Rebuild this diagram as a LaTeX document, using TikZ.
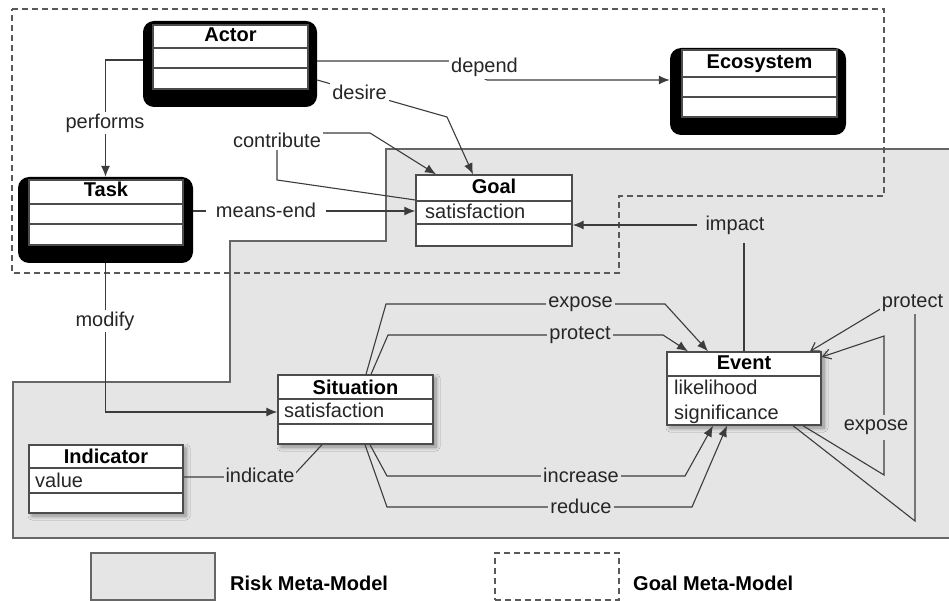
\documentclass[tikz,border=0pt]{standalone}
\usepackage{fontspec}
\setmainfont{Liberation Sans}
\usepackage{tikz}
\usetikzlibrary{shadows.blur}
\usetikzlibrary{arrows.meta}
\definecolor{riskgray}{RGB}{229,229,229}
\definecolor{linegray}{RGB}{60,60,60}

\begin{document}
\begin{tikzpicture}[x=1pt,y=-1pt,font=\fontsize{20}{24}\selectfont]
\tikzstyle{heavy}=[rectangle,rounded corners=11pt,fill=black,inner sep=0]
\tikzstyle{cls}=[rectangle,draw=black!70,line width=1.4pt,fill=white,inner sep=0]
\tikzstyle{shadowed}=[blur shadow={shadow xshift=3pt,shadow yshift=-3pt,shadow blur radius=4pt,shadow blur steps=8}]
\tikzstyle{cline}=[draw=black!70,line width=1.3pt]
\tikzstyle{ttl}=[anchor=base,inner sep=0,font=\fontsize{20}{24}\selectfont\bfseries]
\tikzstyle{attr}=[anchor=base west,inner sep=0,text=black!85]
\tikzstyle{lbl}=[fill=white,inner sep=2pt,text=black!85]
\tikzstyle{lblg}=[fill=riskgray,inner sep=2pt,text=black!85]
\tikzstyle{conn}=[draw=linegray,line width=1.1pt]
\tikzstyle{arr}=[conn,-{Latex[length=11pt,width=9pt]}]
\tikzstyle{oarr}=[conn,-{Straight Barb[length=8pt,width=10pt]}]
\tikzstyle{goalregion}=[draw=black!65,line width=1.3pt,dash pattern=on 6pt off 4pt]

\useasboundingbox (0,0) rectangle (949,601);

% risk and goal regions
\draw[fill=riskgray,draw=black!60,line width=1.3pt] (386,149) -- (953,149) -- (953,538) -- (13,538) -- (13,382) -- (230,382) -- (230,241) -- (386,241) -- cycle;
\draw[goalregion] (12,9) -- (884,9) -- (884,196) -- (619,196) -- (619,273) -- (12,273) -- cycle;

% legend
\node[rectangle,fill=riskgray,draw=black!60,line width=1.3pt,minimum width=124,minimum height=47] (RiskBox) at (153,576.5) {};
\node[anchor=west,inner sep=0,font=\fontsize{20}{24}\selectfont\bfseries] (RiskText) at (230,583) {Risk Meta-Model};
\node[rectangle,goalregion,minimum width=124,minimum height=47] (GoalBox) at (557,576.5) {};
\node[anchor=west,inner sep=0,font=\fontsize{20}{24}\selectfont\bfseries] (GoalText) at (633,583) {Goal Meta-Model};

% actor
\node[heavy,minimum width=174,minimum height=86] (ActorF) at (230,64) {};
\node[cls,minimum width=155,minimum height=64] (Actor) at (230.5,57) {};
\node[ttl] (ActorT) at (230.5,42) {Actor};
\draw[cline] (Actor.west |- 0,48) -- (Actor.east |- 0,48);
\draw[cline] (Actor.west |- 0,68) -- (Actor.east |- 0,68);

% task
\node[heavy,minimum width=175,minimum height=86] (TaskF) at (105.5,220) {};
\node[cls,minimum width=154,minimum height=65] (Task) at (106,212.5) {};
\node[ttl] (TaskT) at (106,197) {Task};
\draw[cline] (Task.west |- 0,204) -- (Task.east |- 0,204);
\draw[cline] (Task.west |- 0,224) -- (Task.east |- 0,224);

% ecosystem
\node[heavy,minimum width=176,minimum height=87] (EcoF) at (758,91.5) {};
\node[cls,minimum width=155,minimum height=67] (Eco) at (759.5,83.5) {};
\node[ttl] (EcoT) at (759.5,69) {Ecosystem};
\draw[cline] (Eco.west |- 0,77) -- (Eco.east |- 0,77);
\draw[cline] (Eco.west |- 0,97) -- (Eco.east |- 0,97);

% goal
\node[cls,minimum width=156,minimum height=71] (Goal) at (494,210.5) {};
\node[ttl] (GoalT) at (494,194) {Goal};
\node[attr] (GoalA) at (425,219) {satisfaction};
\draw[cline] (Goal.west |- 0,201) -- (Goal.east |- 0,201);
\draw[cline] (Goal.west |- 0,224) -- (Goal.east |- 0,224);

% situation
\node[cls,shadowed,minimum width=155,minimum height=69] (Situation) at (355.5,409.5) {};
\node[ttl] (SituationT) at (355.5,394) {Situation};
\node[attr] (SituationA) at (284,417) {satisfaction};
\draw[cline] (Situation.west |- 0,399) -- (Situation.east |- 0,399);
\draw[cline] (Situation.west |- 0,424) -- (Situation.east |- 0,424);

% indicator
\node[cls,shadowed,minimum width=154,minimum height=68] (Indicator) at (106,479) {};
\node[ttl] (IndicatorT) at (106,463) {Indicator};
\node[attr] (IndicatorA) at (35,487) {value};
\draw[cline] (Indicator.west |- 0,468) -- (Indicator.east |- 0,468);
\draw[cline] (Indicator.west |- 0,493) -- (Indicator.east |- 0,493);

% event
\node[cls,shadowed,minimum width=154,minimum height=73] (Event) at (744,388.5) {};
\node[ttl] (EventT) at (744,369) {Event};
\node[attr] (EventA) at (674,394) {likelihood};
\node[attr] (EventB) at (674,419) {significance};
\draw[cline] (Event.west |- 0,376) -- (Event.east |- 0,376);

% goal model links
\draw[arr] (ActorF.west |- 0,60) -| (TaskF.north) node[lbl] (performs) at (105,123) {performs};
\draw[arr] (ActorF.east |- 0,61) -- (450,61) -- (487,80) -- (EcoF.west |- 0,80) node[lbl] (depend) at (484.5,67.5) {depend};
\draw[arr] (ActorF.east |- 0,80) -- (447,117) -- (Goal.north -| 473,0) node[lbl] (desire) at (359.5,92.5) {desire};
\draw[arr] (Goal.west |- 0,200) -- (277,180) -- (277,133) -- (370,133) -- (Goal.north -| 436,0) node[lbl] (contribute) at (277,140.5) {contribute};
\draw[arr] (TaskF.east |- 0,211) -- (Goal.west |- 0,211) node[lbl,inner xsep=10pt] (meansend) at (266,210.5) {means-end};
\draw[arr] (TaskF.south) |- (Situation.west |- 0,412) node[lbl] (modify) at (105,321) {modify};

% risk model links
\draw[conn] (Indicator.east |- 0,477) -- (292,477) -- (Situation.south -| 322,0) node[lblg] (indicate) at (260,475.5) {indicate};
\draw[arr] (Event.north) |- (Goal.east |- 0,225) node[lblg,inner sep=9pt] (impact) at (735,225) {impact};
\draw[arr] (Situation.north -| 366,0) -- (386,304) -- (665,304) -- (Event.north -| 708,0) node[lblg] (exposeA) at (580.5,304) {expose};
\draw[arr] (Situation.north -| 371,0) -- (388,335) -- (663,335) -- (Event.north -| 688,0) node[lblg] (protectA) at (580,335) {protect};
\draw[arr] (Situation.south -| 370,0) -- (387,476) -- (685,476) -- (Event.south -| 713,0) node[lblg] (increase) at (581,475.5) {increase};
\draw[arr] (Situation.south -| 365,0) -- (387,507) -- (692,507) -- (Event.south -| 727,0) node[lblg] (reduce) at (581,506) {reduce};
\draw[oarr] (Event.south -| 793,0) -- (915,521) -- (915,308) -- (882,308) -- (Event.north -| 810,0) node[lblg] (protectB) at (912.5,303.5) {protect};
\draw[oarr] (Event.south -| 803,0) -- (884,475) -- (884,336) -- (Event.east |- 0,357) node[lblg,inner sep=5pt] (exposeB) at (876,427.5) {expose};

\end{tikzpicture}
\end{document}
